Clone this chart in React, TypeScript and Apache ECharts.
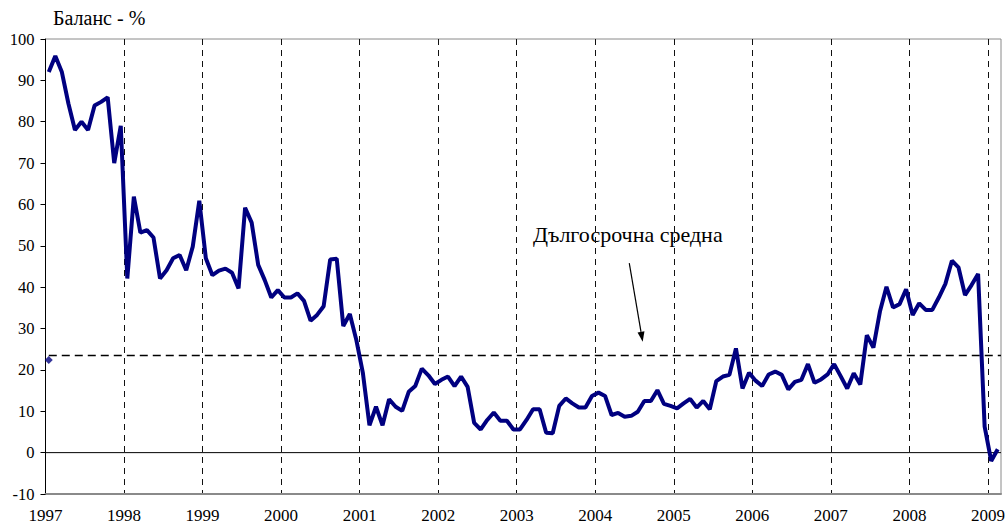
import { useEffect, useRef } from "react";
import * as echarts from "echarts";

const yearLabels = ["1997", "1998", "1999", "2000", "2001", "2002", "2003", "2004", "2005", "2006", "2007", "2008", "2009"];
const yTickLabels = [-10, 0, 10, 20, 30, 40, 50, 60, 70, 80, 90, 100];

// Monthly balance, Jan 1997 .. Feb 2009
const balance1997 = [92, 95.9, 92, 84.4, 78, 80, 78, 83.9, 84.8, 85.9, 70, 79];
const balance1998 = [42.1, 61.9, 53.2, 53.8, 52, 42.1, 44.1, 47, 47.8, 44.1, 49.8, 60.9];
const balance1999 = [47, 42.9, 44, 44.5, 43.5, 39.7, 59.2, 55.6, 45.4, 41.7, 37.5, 39.3];
const balance2000 = [37.5, 37.5, 38.5, 36.7, 31.9, 33.3, 35.4, 46.7, 46.9, 30.6, 33.5, 27.2];
const balance2001 = [19.2, 6.6, 11.1, 6.6, 12.9, 11.1, 10.1, 14.7, 16.1, 20.3, 18.7, 16.6];
const balance2002 = [17.6, 18.4, 16.1, 18.4, 15.9, 7.2, 5.6, 7.9, 9.7, 7.7, 7.7, 5.6];
const balance2003 = [5.6, 7.9, 10.5, 10.5, 4.8, 4.7, 11.3, 13.1, 11.9, 10.9, 10.9, 13.7];
const balance2004 = [14.5, 13.7, 9.1, 9.6, 8.7, 8.9, 9.9, 12.5, 12.5, 15.1, 11.8, 11.3];
const balance2005 = [10.7, 11.9, 13, 10.9, 12.5, 10.5, 17.3, 18.4, 18.8, 25.2, 15.5, 19.3];
const balance2006 = [17.4, 16.1, 18.9, 19.6, 18.8, 15.3, 17.1, 17.6, 21.4, 16.9, 17.7, 18.9];
const balance2007 = [21.4, 18.5, 15.5, 19.2, 16.5, 28.4, 25.4, 34.1, 40.1, 35.1, 35.9, 39.5];
const balance2008 = [33.3, 36.1, 34.5, 34.5, 37.5, 40.8, 46.4, 44.8, 38.1, 40.5, 43.2, 6.3];
const balance2009 = [-2, 0.8];

const balance = [
  ...balance1997, ...balance1998, ...balance1999, ...balance2000, ...balance2001,
  ...balance2002, ...balance2003, ...balance2004, ...balance2005, ...balance2006,
  ...balance2007, ...balance2008, ...balance2009,
];

const longTermAverage = 23.5;
const firstPointMarker = 22.4;
const monthsShown = 146;
const arrowFrom = [89.2, 45.8];
const arrowTo = [91.25, 26.8];

const serif = "'Liberation Serif', 'DejaVu Serif', serif";

export default function App() {
  const ref = useRef<HTMLDivElement>(null);

  useEffect(() => {
    const chart = echarts.init(ref.current!, null, { renderer: "svg" });
    const lineData = balance.map((v, i) => [i + 0.5, v]);

    chart.setOption({
      animation: false,
      backgroundColor: "#ffffff",
      grid: {
        left: 45.5,
        top: 39,
        width: 955.5,
        height: 455,
        show: true,
        borderColor: "#8a8a8a",
        borderWidth: 1,
      },
      xAxis: {
        type: "value",
        min: 0,
        max: monthsShown,
        interval: 12,
        axisLine: { onZero: false, lineStyle: { color: "#8a8a8a", width: 2 } },
        axisTick: { show: false },
        axisLabel: {
          formatter: (v: number) => (v % 12 === 0 ? yearLabels[v / 12] ?? "" : ""),
          fontFamily: serif,
          fontSize: 17,
          color: "#000",
          margin: 13,
        },
        splitLine: {
          show: true,
          showMinLine: false,
          showMaxLine: false,
          lineStyle: { color: "#111", type: [6, 5], width: 1 },
        },
      },
      yAxis: {
        type: "value",
        min: yTickLabels[0],
        max: yTickLabels[yTickLabels.length - 1],
        interval: 10,
        axisLine: { show: true, lineStyle: { color: "#000", width: 1 } },
        axisTick: { show: true, length: 5, lineStyle: { color: "#000" } },
        axisLabel: { fontFamily: serif, fontSize: 16.5, color: "#000", margin: 11 },
        splitLine: { show: false },
      },
      series: [
        {
          type: "line",
          name: "avg",
          data: [[0.5, longTermAverage], [monthsShown, longTermAverage]],
          symbol: "none",
          lineStyle: { color: "#000", width: 1.5, type: [8, 5] },
          z: 2,
        },
        {
          type: "line",
          name: "zero",
          data: [[0, 0], [monthsShown, 0]],
          symbol: "none",
          lineStyle: { color: "#000", width: 1 },
          z: 1,
        },
        {
          type: "line",
          name: "balance",
          data: lineData,
          symbol: "none",
          lineStyle: { color: "#000080", width: 4 },
          z: 3,
        },
        {
          type: "scatter",
          name: "marker",
          data: [[0.5, firstPointMarker]],
          symbol: "diamond",
          symbolSize: 8,
          itemStyle: { color: "#000080" },
          z: 4,
        },
      ],
      graphic: [
        {
          type: "text",
          left: 53,
          top: 8,
          style: { text: "Баланс - %", font: `20px ${serif}`, fill: "#000" },
        },
        {
          type: "text",
          left: 533,
          top: 223,
          style: { text: "Дългосрочна средна", font: `22px ${serif}`, fill: "#000" },
        },
      ],
    });

    // Annotation arrow, positioned through the chart's own scales
    const p1 = chart.convertToPixel({ gridIndex: 0 }, arrowFrom) as number[];
    const p2 = chart.convertToPixel({ gridIndex: 0 }, arrowTo) as number[];
    const dx = p2[0] - p1[0];
    const dy = p2[1] - p1[1];
    const len = Math.sqrt(dx * dx + dy * dy);
    const ux = dx / len;
    const uy = dy / len;
    const headLen = 10;
    const headHalf = 3.5;
    const bx = p2[0] - ux * headLen;
    const by = p2[1] - uy * headLen;
    chart.setOption({
      graphic: [
        {
          type: "text",
          left: 53,
          top: 8,
          style: { text: "Баланс - %", font: `20px ${serif}`, fill: "#000" },
        },
        {
          type: "text",
          left: 533,
          top: 223,
          style: { text: "Дългосрочна средна", font: `22px ${serif}`, fill: "#000" },
        },
        {
          type: "line",
          shape: { x1: p1[0], y1: p1[1], x2: bx, y2: by },
          style: { stroke: "#000", lineWidth: 1.2 },
          z: 10,
        },
        {
          type: "polygon",
          shape: {
            points: [
              [p2[0], p2[1]],
              [bx - uy * headHalf, by + ux * headHalf],
              [bx + uy * headHalf, by - ux * headHalf],
            ],
          },
          style: { fill: "#000" },
          z: 10,
        },
      ],
    });

    return () => chart.dispose();
  }, []);

  return (
    <div
      ref={ref}
      style={{ position: "fixed", left: 0, top: 0, width: 1008, height: 524, background: "#fff" }}
    />
  );
}
